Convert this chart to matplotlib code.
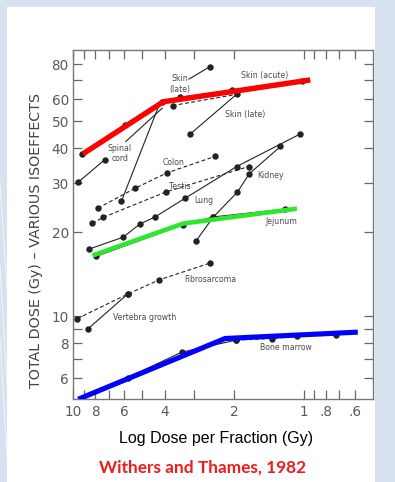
import matplotlib
matplotlib.use("Agg")
import matplotlib.pyplot as plt
from matplotlib.patches import Rectangle
from matplotlib.ticker import FixedLocator, FixedFormatter, NullFormatter

# isoeffect curves (dose per fraction in Gy, total dose in Gy)
skin_acute_x = [9.1, 5.96, 4.1, 3.44, 2.04, 1.02]
skin_acute_y = [38.3, 48.6, 58.8, 60.9, 64.5, 69.9]
skin_acute2_x = [3.7, 2.02]
skin_acute2_y = [56.9, 62.1]
skin_late_a_x = [3.14, 2.55]
skin_late_a_y = [70.8, 78.4]
skin_late_b_x = [3.11, 1.95]
skin_late_b_y = [44.9, 62.5]
spinal_x = [9.51, 7.28]
spinal_y = [30.2, 36.4]
spinal_lead_x = [5.90, 4.10]
spinal_lead_y = [42.3, 55.7]
spinal_b_x = [6.17, 4.27]
spinal_b_y = [25.8, 56.1]
colon_x = [7.79, 5.36, 3.93, 2.42]
colon_y = [24.4, 28.8, 32.6, 37.4]
testis_x = [8.24, 7.41, 3.95, 1.73]
testis_y = [21.5, 22.6, 27.9, 34.4]
lung_x = [8.52, 6.06, 5.13, 4.40, 3.26, 1.95, 1.04]
lung_y = [17.4, 19.2, 21.4, 22.7, 26.5, 34.4, 44.9]
kidney_x = [2.93, 2.46, 1.94, 1.72, 1.26]
kidney_y = [18.6, 22.7, 27.8, 32.4, 40.6]
jejunum_x = [7.92, 3.32, 2.46, 1.20]
jejunum_y = [16.4, 21.3, 22.7, 24.2]
fibro_x = [9.58, 5.80, 4.23, 2.55]
fibro_y = [9.81, 12.0, 13.5, 15.5]
vertebra_x = [8.61, 5.80]
vertebra_y = [9.01, 12.0]
marrow_x = [5.80, 3.38, 1.96, 1.37, 1.07, 0.724]
marrow_y = [6.02, 7.43, 8.21, 8.32, 8.48, 8.55]

# overlaid trend lines
red_x = [9.05, 4.06, 0.935]
red_y = [38.2, 58.7, 70.3]
green_x = [8.24, 3.32, 1.069]
green_y = [16.5, 21.5, 24.3]
blue_x = [9.5, 2.19, 0.582]
blue_y = [5.04, 8.32, 8.77]

xtick_vals = [10, 8, 6, 4, 2, 1, 0.8, 0.6]
xtick_text = ['10', '8', '6', '4', '2', '1', '.8', '.6']
xminor_vals = [9, 7, 5, 3, 0.9, 0.7]
ytick_vals = [6, 8, 10, 20, 30, 40, 50, 60, 80]
ytick_text = ['6', '8', '10', '20', '30', '40', '50', '60', '80']
yminor_vals = [7, 9, 70]

labels = [
    ('Skin', 3.44, 71.3), ('(late)', 3.44, 65.1),
    ('Skin (acute)', 1.47, 73.2), ('Skin (late)', 1.79, 52.7),
    ('Spinal', 6.27, 40.0), ('cord', 6.27, 36.9),
    ('Colon', 3.65, 35.7), ('Testis', 3.44, 29.2), ('Lung', 2.72, 25.9),
    ('Kidney', 1.39, 31.9), ('Jejunum', 1.25, 21.9),
    ('Fibrosarcoma', 2.55, 13.5), ('Vertebra growth', 4.88, 9.86),
    ('Bone marrow', 1.19, 7.70),
]

W, H = 395, 482
fig = plt.figure(figsize=(W / 100, H / 100), dpi=100, facecolor='#d6e3ef')
fig.patches.append(Rectangle((7 / W, 0), (375 - 7) / W, (H - 7) / H,
                             transform=fig.transFigure, facecolor='white',
                             edgecolor='none', zorder=-2))
# faint streaks in the backdrop
for y0, y1 in [(0.62, 0.40), (0.45, 0.20), (0.30, 0.05)]:
    fig.lines.append(plt.Line2D([0.0, 0.018], [y0, y1], transform=fig.transFigure,
                                color='white', lw=0.8, alpha=0.6, zorder=-3))

ax = fig.add_axes([73 / W, 1 - 399 / H, 300 / W, 349 / H])
ax.set_xscale('log')
ax.set_yscale('log')
ax.set_xlim(10, 0.5)
ax.set_ylim(5.05, 90)

ink = '#222222'
dash = (0, (3.5, 2.2))
kw = dict(color=ink, lw=0.8, marker='o', ms=3.6, zorder=3)

ax.plot(skin_acute_x, skin_acute_y, **kw)
ax.plot(skin_acute2_x, skin_acute2_y, ls=dash, markevery=[0], **kw)
ax.plot(skin_late_a_x, skin_late_a_y, markevery=[1], **kw)
ax.plot(skin_late_b_x, skin_late_b_y, **kw)
ax.plot(spinal_x, spinal_y, **kw)
ax.plot(spinal_lead_x, spinal_lead_y, color=ink, lw=0.8, zorder=3)
ax.plot(spinal_b_x, spinal_b_y, markevery=[0], **kw)
ax.plot(colon_x, colon_y, ls=dash, **kw)
ax.plot(testis_x, testis_y, ls=dash, **kw)
ax.plot(lung_x, lung_y, **kw)
ax.plot(kidney_x, kidney_y, **kw)
ax.plot(jejunum_x, jejunum_y, **kw)
ax.plot(fibro_x, fibro_y, ls=dash, **kw)
ax.plot(vertebra_x, vertebra_y, **kw)
ax.plot(marrow_x[:3], marrow_y[:3], **kw)
ax.plot(marrow_x[2:], marrow_y[2:], ls=dash, **kw)

ax.plot(red_x, red_y, color='#ff0000', lw=3.9, solid_capstyle='butt', zorder=5)
ax.plot(green_x, green_y, color='#2ee62e', lw=3.3, solid_capstyle='butt', zorder=5)
ax.plot(blue_x, blue_y, color='#0000ff', lw=3.7, solid_capstyle='butt', zorder=5)

for txt, lx, ly in labels:
    ax.text(lx, ly, txt, fontsize=5.6, color='#4a4a4a', ha='center', va='center',
            zorder=4)

ax.xaxis.set_major_locator(FixedLocator(xtick_vals))
ax.xaxis.set_major_formatter(FixedFormatter(xtick_text))
ax.xaxis.set_minor_locator(FixedLocator(xminor_vals))
ax.xaxis.set_minor_formatter(NullFormatter())
ax.yaxis.set_major_locator(FixedLocator(ytick_vals))
ax.yaxis.set_major_formatter(FixedFormatter(ytick_text))
ax.yaxis.set_minor_locator(FixedLocator(yminor_vals))
ax.yaxis.set_minor_formatter(NullFormatter())

ax.tick_params(which='both', direction='in', top=True, right=True,
               length=6.5, width=0.9, color='#666666')
ax.tick_params(which='major', labelsize=9.8, labelcolor='#5a5a5a')
ax.tick_params(axis='x', pad=4)
ax.tick_params(axis='y', pad=3)
for sp in ax.spines.values():
    sp.set_color('#777777')
    sp.set_linewidth(1.0)

ax.set_ylabel('TOTAL DOSE (Gy) \u2013 VARIOUS ISOEFFECTS', fontsize=10.3,
              color='#444444')
ax.yaxis.set_label_coords(-0.10, 0.454)

fig.text(216 / W, 1 - 438 / H, 'Log Dose per Fraction (Gy)', ha='center',
         va='center', fontsize=11.5, family='Liberation Sans', color='black')
fig.text(202.5 / W, 1 - 468 / H, 'Withers and Thames, 1982', ha='center',
         va='center', fontsize=12.4, family='Lato', fontweight='bold',
         color='#ee1c1c')

fig.savefig('out.png', dpi=100, facecolor=fig.get_facecolor())
